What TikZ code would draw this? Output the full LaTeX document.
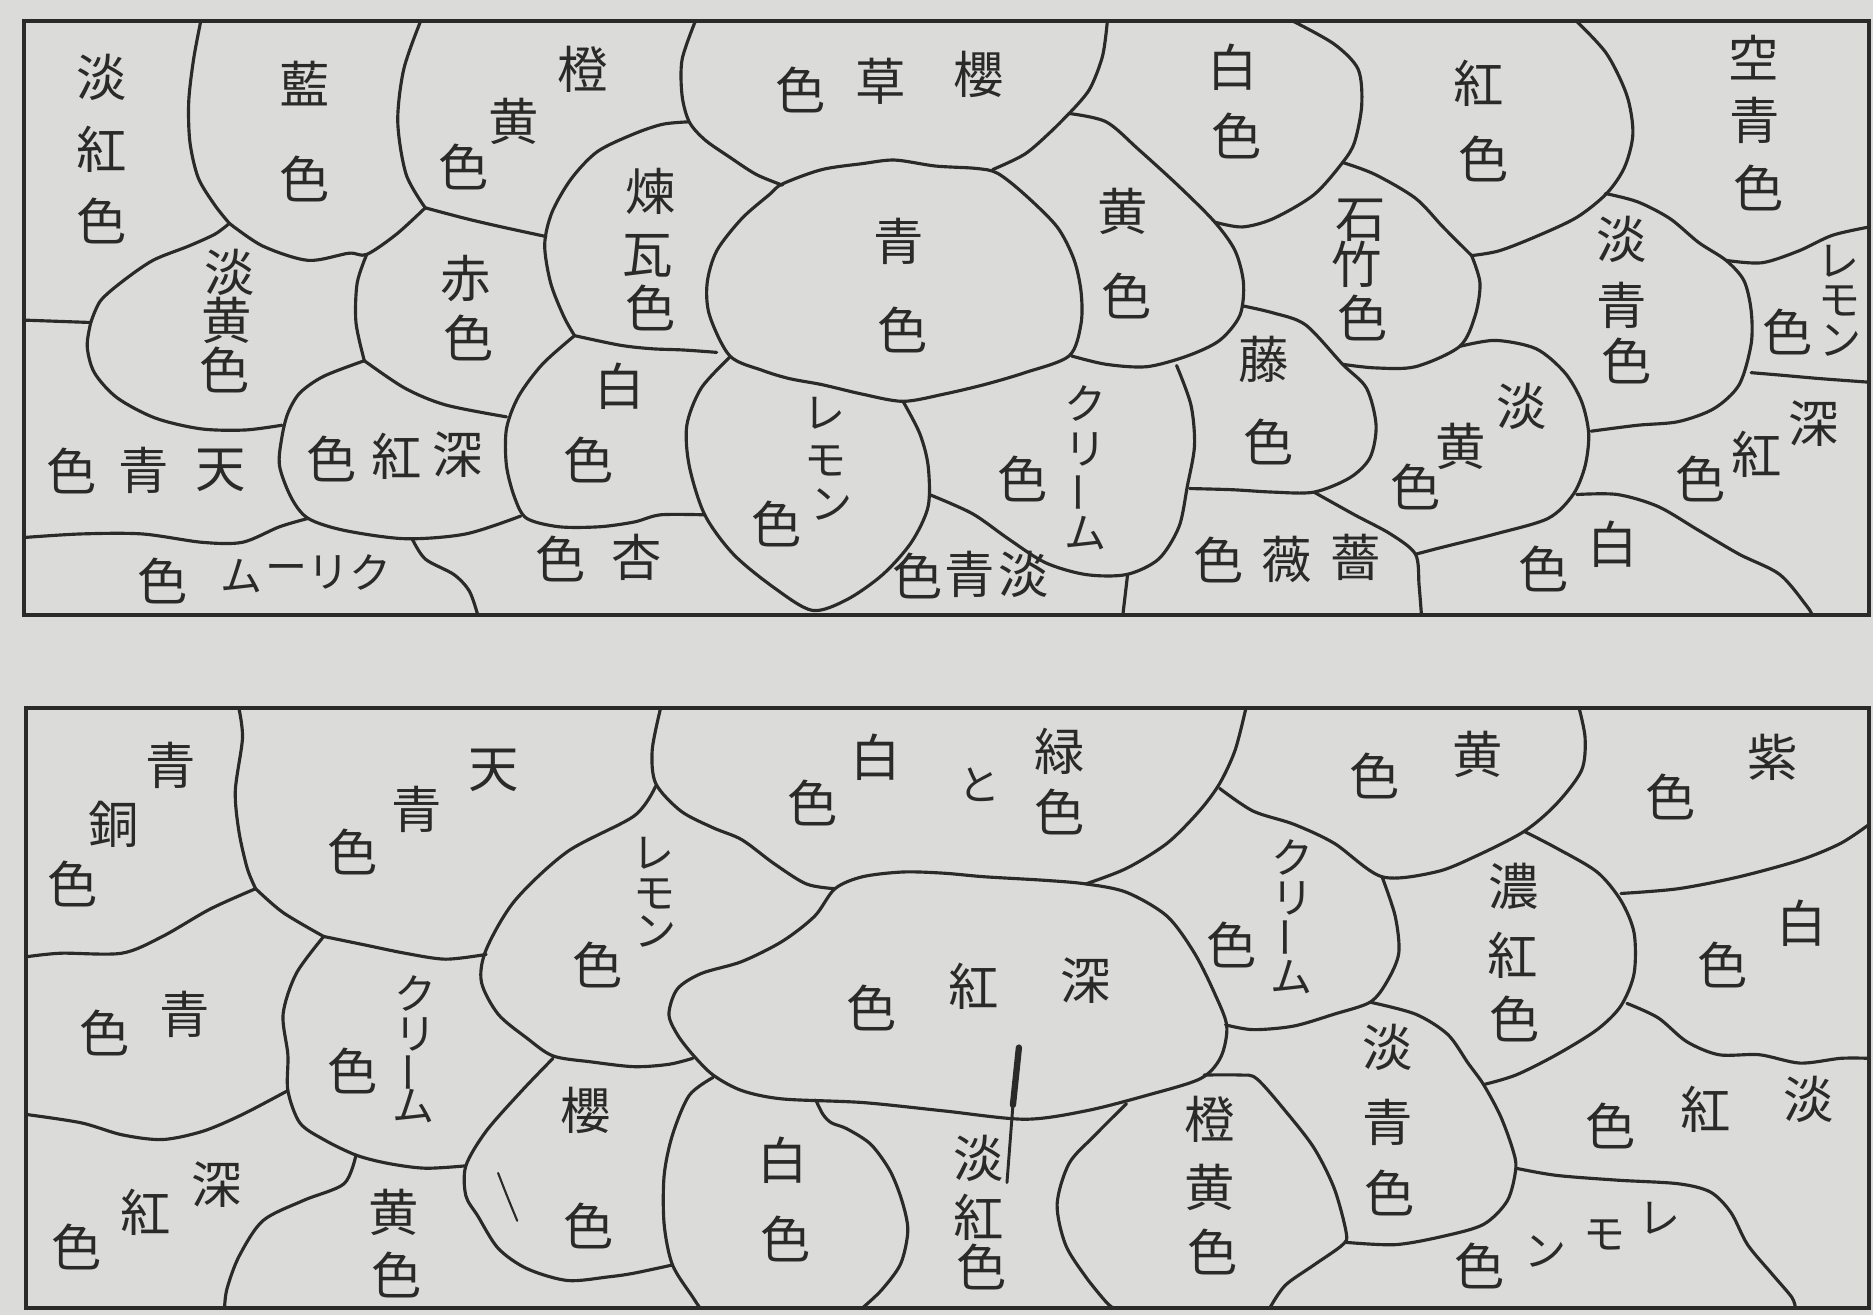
\documentclass[tikz,border=0pt]{standalone}
\usepackage{fontspec}
\newfontfamily\jp{Noto Sans CJK JP}
\definecolor{paper}{RGB}{219,219,217}
\definecolor{ink}{RGB}{42,42,42}
\begin{document}
\begin{tikzpicture}[x=0.01cm,y=-0.01cm,
  ln/.style={draw=ink,line width=0.75pt,line join=round,line cap=round},
  fr/.style={draw=ink,line width=0.95pt},
  ch/.style={font=\jp\fontsize{12}{12}\selectfont,text=ink,inner sep=0pt},
  kn/.style={font=\jp\fontsize{10}{10}\selectfont,text=ink,inner sep=0pt},
  knv/.style={kn,rotate=90}]
\fill[paper] (0,0) rectangle (1568,1101);
\useasboundingbox (0,0) rectangle (1568,1101);
% ================= TOP PANEL =================
\draw[fr] (20,18) rectangle (1565,515);
\draw[ln] plot[smooth] coordinates {(20,268) (48,269) (76,270)};
\draw[ln] plot[smooth] coordinates {(76,270) (84,252) (102,236) (128,218) (158,206) (180,196) (192,187)};
\draw[ln] plot[smooth] coordinates {(76,270) (73,290) (79,312) (98,333) (130,350) (168,359) (205,360) (236,356)};
\draw[ln] plot[smooth] coordinates {(307,213) (299,237) (298,270) (305,302)};
\draw[ln] plot[smooth] coordinates {(168,18) (162,50) (158,85) (159,119) (166,149) (180,172) (192,187)};
\draw[ln] plot[smooth] coordinates {(192,187) (220,206) (258,218) (292,212) (307,213) (332,196) (356,174)};
\draw[ln] plot[smooth] coordinates {(356,174) (340,146) (333,102) (338,58) (352,18)};
\draw[ln] plot[smooth] coordinates {(356,174) (390,183) (420,190) (457,198)};
\draw[ln] plot[smooth] coordinates {(577,102) (555,104) (531,112) (500,127) (478,150) (462,178) (456,205) (461,237) (472,265) (481,281)};
\draw[ln] plot[smooth] coordinates {(481,281) (519,289) (546,292) (572,293) (600,295)};
\draw[ln] plot[smooth] coordinates {(582,18) (571,50) (571,80) (577,102) (590,117) (610,131) (633,146) (655,155)};
\draw[ln] plot[smooth] coordinates {(831,142) (858,129) (880,110) (895,95)};
\draw[ln] plot[smooth] coordinates {(895,95) (912,75) (923,47) (927,18)};
\draw[ln] plot[smooth cycle] coordinates {(655,154) (688,142) (722,137) (749,134) (783,139) (817,141) (835,145) (858,163) (885,190) (899,217) (905,244) (905,271) (895,298) (858,312) (824,322) (790,330) (756,336) (722,330) (688,322) (661,317) (638,310) (611,298) (594,264) (592,237) (600,210) (621,183) (644,163)};
\draw[ln] plot[smooth] coordinates {(895,95) (926,102) (953,125) (987,156) (1017,186) (1034,210) (1041,237) (1038,264) (1021,285) (994,298) (960,307) (926,305) (897,298)};
\draw[ln] plot[smooth] coordinates {(1083,18) (1117,37) (1137,58) (1140,88) (1134,119) (1124,136) (1100,163) (1066,183) (1040,190) (1017,186)};
\draw[ln] plot[smooth] coordinates {(1320,18) (1345,45) (1362,80) (1367,112) (1360,140) (1345,162) (1320,182) (1286,198) (1255,210) (1232,214)};
\draw[ln] plot[smooth] coordinates {(1232,214) (1208,190) (1185,166) (1151,146) (1124,136)};
\draw[ln] plot[smooth] coordinates {(1232,214) (1239,237) (1235,264) (1222,290) (1185,307) (1151,308) (1124,305)};
\draw[ln] plot[smooth] coordinates {(1040,256) (1066,262) (1093,272) (1124,305) (1144,325) (1152,356) (1147,383) (1130,400) (1100,412) (1066,412) (1032,410) (996,409)};
\draw[ln] plot[smooth] coordinates {(1344,162) (1371,169) (1398,183) (1422,203) (1445,218) (1460,235) (1466,260) (1466,288) (1456,322) (1435,342) (1405,353) (1371,356) (1332,361)};
\draw[ln] plot[smooth] coordinates {(1445,218) (1475,220) (1506,210) (1534,197) (1565,190)};
\draw[ln] plot[smooth] coordinates {(1466,312) (1490,314) (1524,317) (1565,320)};
\draw[ln] plot[smooth] coordinates {(1222,290) (1252,285) (1286,292) (1310,312) (1324,336) (1330,363) (1327,390) (1317,414) (1296,434) (1252,447) (1208,458) (1185,464)};
\draw[ln] plot[smooth] coordinates {(1100,412) (1134,431) (1164,447) (1185,464) (1188,490) (1190,515)};
\draw[ln] plot[smooth] coordinates {(1320,414) (1354,414) (1388,424) (1422,444) (1456,464) (1490,481) (1513,508) (1517,515)};
\draw[ln] plot[smooth] coordinates {(611,299) (587,325) (575,356) (577,390) (590,431) (614,464) (648,492) (680,511) (709,502) (739,481) (763,454) (777,424) (777,390) (770,363) (756,336)};
\draw[ln] plot[smooth] coordinates {(985,306) (997,339) (1000,373) (994,407) (987,441) (970,468) (943,481) (909,481) (875,471) (844,451) (814,430) (778,414)};
\draw[ln] plot[smooth] coordinates {(944,481) (942,498) (940,515)};
\draw[ln] plot[smooth] coordinates {(481,281) (454,305) (434,332) (424,359) (424,390) (431,417) (441,434) (468,441) (502,441) (531,437) (553,431) (590,431)};
\draw[ln] plot[smooth] coordinates {(305,302) (339,325) (373,339) (424,349)};
\draw[ln] plot[smooth] coordinates {(305,302) (271,315) (251,329) (241,346) (236,366) (234,390) (244,417) (258,434) (288,444) (339,451) (390,447) (436,432)};
\draw[ln] plot[smooth] coordinates {(20,450) (68,447) (119,447) (169,454) (203,454) (234,441) (258,434)};
\draw[ln] plot[smooth] coordinates {(345,451) (356,468) (380,481) (393,495) (400,515)};
% top labels (kanji)
\foreach \n/\x/\y/\c in {
 a1/85/65/淡, a2/85/125/紅, a3/85/185/色,
 a4/255/70/藍, a5/255/150/色,
 a6/488/58/橙, a7/430/102/黄, a8/388/140/色,
 a9/192/228/淡, a10/190/268/黄, a11/188/310/色,
 a12/390/233/赤, a13/392/283/色,
 a14/60/394/色, a15/120/394/青, a16/185/394/天,
 a17/278/384/色, a18/332/382/紅, a19/383/381/深,
 a20/136/486/色,
 a25/469/468/色, a26/533/467/杏,
 a27/545/160/煉, a28/542/214/瓦, a29/545/258/色,
 a30/519/323/白, a31/493/385/色,
 a32/670/75/色, a33/737/68/草, a34/819/62/櫻,
 a35/752/202/青, a36/756/276/色,
 a37/940/177/黄, a38/943/248/色,
 a39/1032/56/白, a40/1035/114/色,
 a41/1238/70/紅, a42/1242/133/色,
 a43/1468/48/空, a44/1469/101/青, a45/1472/157/色,
 a46/1139/184/石, a47/1136/221/竹, a48/1141/266/色,
 a49/1358/200/淡, a50/1358/256/青, a51/1362/302/色,
 a55/1497/278/色,
 a56/1058/301/藤, a57/1062/370/色,
 a58/1274/340/淡, a59/1223/374/黄, a60/1185/408/色,
 a61/1518/355/深, a62/1471/380/紅, a63/1424/401/色,
 a64/1350/456/白, a65/1292/476/色,
 a66/1020/469/色, a67/1077/468/薇, a68/1135/467/薔,
 a69/768/482/色, a70/812/481/青, a71/857/481/淡,
 a75/650/439/色,
 a80/856/401/色}
 {\node[ch] (\n) at (\x,\y) {\c};}
% top labels (kana)
\foreach \n/\x/\y/\c in {
 a21/202/482/ム, a22/240/480/ー, a23/275/479/リ, a24/310/479/ク,
 a52/1539/219/レ, a53/1540/252/モ, a54/1541/285/ン,
 a72/690/346/レ, a73/691/386/モ, a74/696/422/ン,
 a76/909/338/ク, a77/909/376/リ, a79/909/446/ム}
 {\node[kn] (\n) at (\x,\y) {\c};}
\node[knv] (a78) at (909,412) {ー};
% ================= BOTTOM PANEL =================
\draw[fr] (22,593) rectangle (1565,1095);
\draw[ln] plot[smooth] coordinates {(200,593) (203,618) (197,662) (200,696) (207,727) (214,744)};
\draw[ln] plot[smooth] coordinates {(214,744) (176,761) (136,784) (102,798) (51,798) (22,801)};
\draw[ln] plot[smooth] coordinates {(214,744) (237,764) (271,784)};
\draw[ln] plot[smooth] coordinates {(271,784) (305,791) (339,798) (373,803) (407,799)};
\draw[ln] plot[smooth] coordinates {(271,784) (248,815) (237,849) (241,883) (241,913) (251,940) (271,954) (298,967) (325,974) (356,978) (390,976)};
\draw[ln] plot[smooth] coordinates {(22,933) (68,940) (102,950) (136,954) (170,947) (203,933) (241,913)};
\draw[ln] plot[smooth] coordinates {(298,967) (288,991) (254,1005) (220,1022) (200,1052) (190,1079) (188,1095)};
\draw[ln] plot[smooth] coordinates {(463,886) (437,913) (407,947) (390,976) (390,1001) (400,1018) (417,1045) (441,1062) (475,1072) (509,1069) (530,1066) (563,1059)};
\draw[ln] plot[smooth] coordinates {(549,658) (531,683) (475,713) (431,754) (407,795) (403,822) (417,849) (441,869) (463,884) (495,889) (531,893) (560,891) (580,886)};
\draw[ln] plot[smooth] coordinates {(553,593) (546,628) (549,656) (570,679) (597,693) (621,703) (648,723) (675,740) (699,744)};
\draw[ln] plot[smooth] coordinates {(909,740) (943,727) (977,706) (1004,679) (1021,656) (1034,628) (1043,593)};
\draw[ln] plot[smooth cycle] coordinates {(699,744) (722,734) (756,730) (790,731) (824,734) (875,737) (909,740) (943,747) (977,767) (1000,798) (1017,832) (1027,859) (1022,885) (1005,903) (960,917) (909,930) (858,937) (790,930) (722,923) (655,920) (621,913) (597,900) (580,883) (567,866) (560,849) (567,828) (587,815) (621,805) (655,788) (682,767)};
\draw[ln] plot[smooth] coordinates {(597,902) (577,917) (563,950) (556,984) (556,1025) (563,1059) (580,1086) (586,1095)};
\draw[ln] plot[smooth] coordinates {(683,921) (689,933) (696,940) (709,945) (729,958) (745,980) (755,1005) (760,1030) (754,1058) (738,1080) (722,1095)};
\draw[ln] plot[smooth] coordinates {(943,924) (916,951) (895,974) (885,1008) (892,1042) (909,1069) (926,1090) (932,1095)};
\draw[ln] plot[smooth] coordinates {(1008,900) (1038,900) (1052,903) (1076,930) (1100,961) (1117,995) (1127,1032) (1124,1042) (1100,1059) (1076,1076) (1063,1095)};
\draw[ln] plot[smooth] coordinates {(1126,1040) (1168,1042) (1208,1035) (1242,1025) (1262,1005) (1269,978) (1266,961) (1256,934) (1242,908) (1229,890) (1212,866) (1185,849) (1147,839)};
\draw[ln] plot[smooth] coordinates {(1157,734) (1168,767) (1171,798) (1161,822) (1147,839) (1117,849) (1083,859) (1049,862) (1026,858)};
\draw[ln] plot[smooth] coordinates {(1021,660) (1049,679) (1083,690) (1117,706) (1157,734) (1202,730) (1235,717) (1276,696) (1303,673) (1324,645) (1327,618) (1322,593)};
\draw[ln] plot[smooth] coordinates {(1276,696) (1303,710) (1337,730) (1357,754) (1368,781) (1368,815) (1357,842) (1337,862) (1303,883) (1269,900) (1242,908)};
\draw[ln] plot[smooth] coordinates {(1357,748) (1405,744) (1456,734) (1507,720) (1541,706) (1565,690)};
\draw[ln] plot[smooth] coordinates {(1362,840) (1388,852) (1412,872) (1439,883) (1473,883) (1507,890) (1541,886) (1565,886)};
\draw[ln] plot[smooth] coordinates {(1269,978) (1303,984) (1354,988) (1405,991) (1432,998) (1449,1015) (1463,1042) (1483,1066) (1500,1086) (1503,1095)};
% stray strokes
\draw[ink,line width=1.5pt,line cap=round] (853,877) -- (848,925);
\draw[ink,line width=0.7pt,line cap=round] (848,925) -- (843,990);
\draw[ink,line width=0.5pt,line cap=round] plot[smooth] coordinates {(417,982) (424,1000) (433,1022)};
% bottom labels (kanji)
\foreach \n/\x/\y/\c in {
 b1/143/641/青, b2/95/690/銅, b3/61/740/色,
 b4/413/645/天, b5/349/678/青, b6/295/713/色,
 b7/155/849/青, b8/88/865/色,
 b13/295/897/色,
 b14/181/992/深, b15/122/1015/紅, b16/64/1044/色,
 b17/330/1015/黄, b18/332/1067/色,
 b19/490/930/櫻, b20/493/1026/色,
 b24/500/808/色,
 b25/733/634/白, b26/680/672/色, b28/887/629/緑, b29/887/680/色,
 b30/730/844/色, b31/815/826/紅, b32/909/821/深,
 b33/655/971/白, b34/658/1037/色,
 b35/819/970/淡, b36/819/1019/紅, b37/822/1061/色,
 b38/1013/937/橙, b39/1013/994/黄, b40/1015/1048/色,
 b41/1151/650/色, b42/1237/632/黄,
 b43/1484/634/紫, b44/1399/667/色,
 b49/1031/791/色,
 b50/1267/742/濃, b51/1266/800/紅, b52/1268/853/色,
 b53/1508/773/白, b54/1442/808/色,
 b55/1162/877/淡, b56/1162/940/青, b57/1163/999/色,
 b58/1348/943/色, b59/1428/929/紅, b60/1514/920/淡,
 b61/1239/1060/色}
 {\node[ch] (\n) at (\x,\y) {\c};}
% bottom labels (kana)
\foreach \n/\x/\y/\c in {
 b9/348/832/ク, b10/348/866/リ, b12/346/926/ム,
 b21/547/714/レ, b22/548/748/モ, b23/549/780/ン,
 b27/820/657/と,
 b45/1082/718/ク, b46/1082/752/リ, b48/1081/818/ム,
 b62/1294/1048/ン, b63/1343/1034/モ, b64/1389/1020/レ}
 {\node[kn] (\n) at (\x,\y) {\c};}
\node[knv] (b11) at (348,898) {ー};
\node[knv] (b47) at (1082,785) {ー};
\end{tikzpicture}
\end{document}
